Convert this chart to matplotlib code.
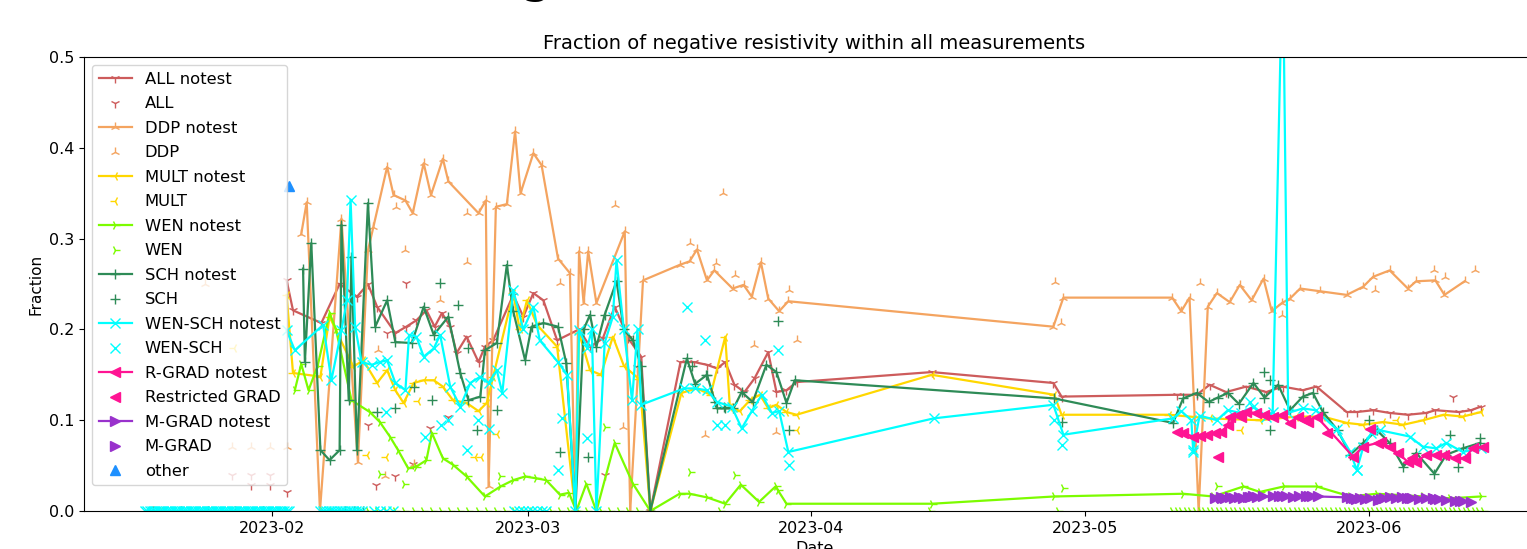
import numpy as np
import matplotlib
matplotlib.use("Agg")
import matplotlib.pyplot as plt
import matplotlib.dates as mdates

BASE = np.datetime64('2023-02-01T00:00')

# ---- data: day offsets from 2023-02-01 and fractions ----
all_nt_d = [1.6, 2.3, 5.4, 7.4, 9.3, 10.5, 11.5, 13.5, 14.7, 15.8, 16.9, 17.8, 18.6, 19.5, 20.2, 21.3, 22.6, 23.3, 24.2,
            26.4, 27.5, 28.6, 29.7, 31.2, 33.6, 34.8, 36.2, 37.5, 39.0, 40.4, 41.4, 44.7, 46.2, 47.6, 48.7, 49.6, 50.6,
            51.7, 52.8, 54.3, 55.2, 56.3, 57.4, 72.2, 85.5, 86.4, 99.0, 101.2, 102.6, 104.4, 106.6, 108.8, 110.6, 112.8,
            114.3, 117.6, 118.7, 120.5, 122.3, 124.3, 126.3, 127.3, 129.9, 131.2, 132.3]
all_nt_v = [.254, .221, .207, .25, .236, .25, .225, .196, .203, .21, .221, .203, .218, .203, .174, .192, .164, .181, .188,
            .238, .214, .24, .232, .188, .2, .181, .19, .225, .19, .17, 0.0, .164, .164, .161, .157, .164, .139,
            .131, .146, .175, .131, .133, .142, .153, .141, .126, .128, .128, .139, .131, .137, .131, .137, .133,
            .137, .109, .109, .111, .108, .106, .108, .111, .109, .111, .115]
all_d = [-4.4, -2.3, -0.2, -2.3, -0.2, 1.6, 10.5, 11.4, 12.6, 13.5, 14.7, 15.4, 17.3, 19.3, 36.4, 39.9, 129.2]
all_v = [.04, .04, .04, .029, .029, .021, .095, .029, .196, .038, .251, .052, .091, .104, .04, .159, .126]

ddp_nt_d = [3.2, 3.8, 5.25, 7.6, 9.4, 10.5, 11.1, 12.6, 13.3, 14.6, 15.4, 16.6, 17.4, 18.7, 19.3, 22.6, 23.4, 23.7, 24.5,
            25.7, 26.6, 27.2, 28.6, 29.5, 31.3, 32.6, 33.2, 33.6, 34.1, 34.6, 35.5, 38.6, 39.2, 40.6, 44.6, 45.7, 46.5,
            47.6, 48.4, 50.4, 51.6, 52.5, 53.5, 54.3, 55.5, 56.5, 85.5, 86.6, 98.5, 99.5, 100.4, 101.4, 102.4, 103.4,
            104.8, 105.9, 107.2, 108.5, 109.4, 110.5, 111.4, 112.5, 114.7, 117.6, 119.4, 120.5, 122.3, 124.3, 125.2,
            127.3, 128.3, 130.5]
ddp_nt_v = [.305, .34, 0.0, .322, .054, .287, .313, .379, .348, .342, .328, .383, .348, .388, .363, .328, .342, .027, .335,
            .338, .418, .35, .394, .381, .278, .262, 0.0, .286, .229, .286, .229, .308, 0.0, .254, .271, .275, .288,
            .254, .265, .245, .249, .236, .274, .234, .22, .231, .203, .235, .235, .22, .235, 0.0, .225, .24,
            .23, .249, .232, .256, .22, .229, .234, .245, .242, .238, .247, .258, .265, .245, .253,
            .254, .238, .253]
ddp_d = [-7.3, -4.4, -2.3, -0.2, 1.6, 11.6, 12.4, 13.6, 14.6, 15.5, 18.4, 21.3, 21.3, 31.5, 37.5, 38.4, 45.7, 47.4, 48.6,
         49.4, 50.7, 52.7, 55.2, 56.6, 57.4, 85.7, 86.3, 101.5, 110.5, 120.7, 127.1, 128.4, 131.6]
ddp_v = [.25, .071, .071, .071, .071, .177, .039, .335, .287, .052, .232, .274, .328, .251, .337, .093, .295, .084, .273,
         .35, .26, .183, .087, .243, .188, .252, .207, .251, .216, .243, .265, .258, .265]

mult_nt_d = [1.6, 2.3, 5.3, 6.3, 8.9, 10.0, 11.5, 12.6, 13.5, 14.4, 15.5, 16.6, 17.7, 18.7, 19.8, 21.3, 22.6, 23.5, 24.2,
             26.4, 27.1, 27.9, 29.0, 31.2, 33.2, 33.6, 34.8, 36.0, 37.3, 38.5, 40.2, 41.4, 44.8, 46.5, 48.0, 49.6, 50.1,
             51.2, 52.3, 53.4, 54.3, 55.2, 56.3, 57.4, 72.2, 85.6, 86.4, 98.2, 102.6, 108.1, 112.1, 115.0, 117.6, 119.4,
             121.6, 123.8, 126.0, 128.2, 130.3, 132.3]
mult_nt_v = [.238, .152, .148, .214, .159, .166, .141, .155, .133, .119, .141, .144, .144, .137, .122, .119, .11, .119, .148,
             .24, .2, .232, .205, .181, 0.0, .196, .155, .15, .192, .16, .145, 0.0, .13, .135, .128, .192, .115,
             .11, .122, .128, .113, .117, .109, .106, .15, .128, .106, .106, .102, .1, .104, .104, .097, .095,
             .098, .095, .1, .106, .104, .109]
mult_d = [-12.5, -12.2, -4.2, 10.4, 12.5, 16.0, 22.2, 22.9, 24.6, 57.4, 106.0, 123.1]
mult_v = [0.0, 0.0, .18, .062, .06, .121, .06, .06, .085, .089, .089, .1]

wen_nt_d = [2.5, 3.2, 4.0, 5.0, 6.3, 7.0, 8.7, 10.7, 11.8, 12.9, 13.8, 14.9, 15.8, 16.9, 17.5, 18.7, 19.8, 21.3, 23.3,
            25.0, 26.4, 27.7, 28.9, 30.0, 31.5, 32.5, 33.3, 34.4, 35.5, 37.5, 39.5, 41.4, 44.6, 45.7, 47.6, 49.6, 51.3,
            53.3, 55.1, 56.3, 72.2, 85.6, 99.7, 103.0, 106.3, 108.1, 110.7, 114.3, 118.0, 120.9, 126.0, 128.9, 132.3]
wen_nt_v = [.133, .162, .133, .16, .218, .2, .122, .109, .098, .082, .067, .047, .049, .056, .086, .058, .051, .038, .016,
            .027, .034, .038, .036, .034, .018, .02, 0.0, .03, 0.0, .075, .03, 0.0, .019, .019, .015, .008, .029,
            .01, .027, .008, .008, .016, .019, .016, .027, .021, .027, .027, .016, .019, .016, .014, .016]
wen_pt_d = [11.8, 14.4, 25.0, 36.4, 45.7, 50.7, 55.4, 86.6, 103.4]
wen_pt_v = [.041, .03, .038, .093, .043, .04, .023, .025, .027]
wen_zero_d = [5.5, 6.5, 7.5, 8.5, 9.5, 10.5, 11.5, 12.5, 13.5, 14.5, 15.5, 16.5, 17.5, 18.5, 19.5, 20.5, 21.5, 22.5,
              23.5, 24.5, 25.5, 26.5, 27.5, 28.5, 29.5, 30.5, 31.5, 32.5, 33.5, 34.5, 36.0, 37.0, 38.0, 39.0, 40.0,
              49.0, 72.0, 86.0, 98.5, 99.0, 99.5, 100.0, 100.5, 101.0, 101.5, 102.0, 102.5, 103.0, 103.5, 104.0,
              104.5, 105.0, 105.5, 106.0, 106.5, 107.0, 107.5, 108.0, 108.5, 109.0, 109.5, 110.0, 110.5, 111.0,
              111.5, 112.0, 112.5, 113.0, 113.5, 114.0, 114.5, 115.0, 115.5, 116.0, 116.5, 117.0, 117.5, 118.0,
              118.5, 119.0, 119.5, 120.0, 120.5, 121.0, 121.5, 122.0, 122.5, 123.0, 123.5, 124.0, 124.5, 125.0,
              125.5, 126.0, 126.5, 127.0, 127.5, 128.0, 128.5, 129.0, 129.5, 130.0, 130.5, 131.0, 131.5, 132.0, 132.5]

sch_nt_d = [3.4, 3.6, 4.3, 5.3, 6.3, 7.4, 7.6, 8.4, 8.7, 9.3, 10.5, 11.3, 12.6, 13.5, 15.3, 16.6, 17.7, 19.3, 20.6, 21.5,
            22.8, 23.3, 24.6, 25.7, 26.4, 27.7, 28.4, 29.7, 31.3, 32.2, 33.2, 34.1, 34.8, 35.5, 36.4, 37.7, 38.5, 39.5,
            40.4, 41.4, 45.4, 46.3, 47.6, 48.7, 49.6, 50.5, 51.4, 52.6, 54.1, 55.2, 56.3, 57.2, 85.6, 98.6, 99.7,
            101.2, 102.5, 103.5, 104.6, 105.8, 107.4, 108.6, 110.1, 111.4, 112.8, 113.9, 115.0, 116.6, 118.0, 119.4,
            120.9, 122.3, 123.8, 125.2, 127.2, 128.5, 130.3, 132.2]
sch_nt_v = [.267, .164, .295, .067, .056, .067, .315, .122, .28, .067, .339, .203, .232, .186, .185, .225, .194, .214, .152,
            .122, .126, .177, .185, .271, .22, .166, .203, .207, .203, .163, 0.0, .2, .216, .181, .216, .253, .2, .188,
            .16, 0.0, .168, .14, .15, .113, .113, .113, .131, .12, .161, .153, .119, .144, .124, .097, .124,
            .13, .12, .125, .13, .118, .141, .125, .139, .111, .126, .13, .109, .089, .062, .075,
            .089, .075, .049, .064, .041, .062, .069, .075]
sch_pt_d = [11.5, 13.5, 15.5, 17.5, 18.4, 20.4, 21.5, 22.4, 24.6, 31.5, 34.6, 46.0, 47.5, 48.5, 49.5, 55.4, 56.6, 86.4,
            108.5, 109.2, 109.2, 120.0, 128.9, 129.8, 132.2]
sch_pt_v = [.109, .113, .137, .122, .251, .227, .18, .089, .111, .065, .06, .16, .15, .12, .115, .209, .089, .098,
            .153, .144, .089, .1, .084, .049, .08]
sch_zero_d = [-13.0, -10.0, -7.0, -4.0, -1.0, 8.0, 9.0, 10.0]

ws_nt_d = [1.6, 2.5, 5.6, 6.5, 7.6, 8.2, 8.6, 9.1, 9.8, 10.9, 11.8, 12.6, 13.5, 14.6, 15.0, 15.8, 16.6, 17.7, 18.4, 19.5,
           20.6, 21.7, 22.8, 23.7, 24.6, 25.2, 26.4, 27.5, 28.6, 29.3, 31.3, 32.3, 33.2, 33.6, 34.5, 35.0, 35.5, 36.4,
           37.3, 37.7, 38.5, 39.4, 40.0, 40.4, 45.1, 46.3, 47.6, 48.7, 50.3, 51.4, 52.5, 53.6, 54.7, 55.5, 56.5, 72.4,
           85.5, 86.6, 98.6, 99.5, 100.6, 100.8, 101.5, 103.4, 104.6, 106.0, 107.4, 108.8, 109.5, 110.6, 111.2, 112.8,
           114.2, 116.5, 118.0, 118.7, 119.4, 120.3, 121.2, 124.5, 125.9, 127.4, 128.5, 130.3, 132.3]
ws_nt_v = [.199, .177, .205, .144, .199, .232, .343, .203, .164, .161, .164, .166, .141, .133, .194, .192, .17, .179, .194,
           .137, .115, .141, .148, .141, .155, .13, .243, .2, .225, .188, .164, .15, 0.0, .199, .18, .2, 0.0, .185,
           .214, .276, .2, .122, .2, .117, .135, .135, .133, .12, .115, .091, .11, .128, .108, .11, .065, .102,
           .117, .084, .102, .11, .1, .067, .105, .1, .111, .108, .115, .104, .109, .62, .108, .113,
           .111, .09, .065, .045, .07, .086, .089, .082, .071, .069, .075, .065, .069]
ws_pt_d = [12.5, 16.7, 18.5, 19.3, 21.3, 22.5, 23.7, 31.3, 31.7, 34.5, 45.4, 47.4, 48.7, 49.6, 55.4, 56.6, 85.6, 86.4,
           100.8, 107.0, 118.7]
ws_pt_v = [.109, .082, .095, .1, .067, .1, .09, .045, .102, .08, .225, .188, .095, .095, .177, .051, .1, .073,
           .065, .12, .045]
ws_zero_d = [-13.9, -13.65, -13.4, -13.15, -12.9, -12.65, -12.4, -12.15, -11.9, -11.65, -11.4, -11.15, -10.9, -10.65,
             -10.4, -10.15, -9.9, -9.65, -9.4, -9.15, -8.9, -8.65, -8.4, -8.15, -7.9, -7.65, -7.4, -7.15, -6.9,
             -6.65, -6.4, -6.15, -5.9, -5.65, -5.4, -5.15, -4.9, -4.65, -4.4, -4.15, -3.9, -3.65, -3.4, -3.15,
             -2.9, -2.65, -2.4, -2.15, -1.9, -1.65, -1.4, -1.15, -0.9, -0.65, -0.4, -0.15, 0.1, 0.35, 0.6, 0.85,
             1.1, 1.35, 1.6, 1.85, 5.3, 5.6, 5.9, 6.2, 6.5, 6.8, 7.1, 7.4, 7.7, 8.0, 8.3, 8.6, 8.9, 9.2, 9.5, 9.8,
             11.2, 11.8, 12.5, 13.2, 26.5, 27.0, 27.5, 28.0, 28.5, 29.0, 29.5, 30.0]

rg_nt_d = [99.0, 99.7, 100.8, 101.5, 102.3, 103.2, 103.9, 104.6, 104.8, 105.7, 106.6, 107.7, 108.6, 109.5, 110.5, 111.4,
           112.3, 113.4, 114.3, 118.3, 119.4, 121.4, 122.3, 123.2, 124.3, 125.2, 126.3, 127.4, 128.3, 129.4, 130.5,
           131.4, 132.5]
rg_nt_v = [.087, .086, .082, .083, .084, .086, .087, .095, .104, .106, .109, .108, .106, .104, .106, .097,
           .104, .098, .104, .06, .071, .076, .07, .064, .054, .054, .062, .062, .062, .058, .058,
           .069, .071]
rg_d = [103.5, 115.4, 120.2, 121.0, 113.0, 106.0, 124.8]
rg_v = [.06, .086, .09, .075, .1, .104, .058]

mg_nt_d = [103.2, 103.8, 104.3, 104.8, 105.3, 105.8, 106.3, 106.8, 107.3, 107.8, 108.4, 109.5, 110.2, 111.0, 111.7,
           112.4, 113.1, 113.8, 114.5, 117.6, 118.1, 118.6, 119.1, 119.6, 120.2, 121.0, 121.7, 122.3, 123.0, 123.6,
           124.2, 124.8, 125.5, 126.3, 127.0, 127.7, 128.5, 129.4, 130.3, 131.2]
mg_nt_v = [.014, .015, .014, .015, .014, .015, .014, .015, .016, .015, .016, .016, .017, .016, .015,
           .016, .017, .016, .016, .015, .014, .013, .014, .013, .014, .012, .014, .015, .014, .015,
           .014, .014, .013, .014, .014, .013, .012, .011, .011, .010]
mg_d = [104.0, 107.0, 110.5, 113.5, 118.4, 121.4, 124.5, 127.3, 130.0]
mg_v = [.014, .015, .016, .016, .014, .013, .014, .013, .011]

other_d = [1.9]
other_v = [.358]

# scatter series = read points plus markers sitting on zero
wen_d = wen_pt_d + wen_zero_d
wen_v = wen_pt_v + [0.0] * len(wen_zero_d)
sch_d = sch_pt_d + sch_zero_d
sch_v = sch_pt_v + [0.0] * len(sch_zero_d)
ws_d = ws_pt_d + ws_zero_d
ws_v = ws_pt_v + [0.0] * len(ws_zero_d)


def dates(days):
    return BASE + (np.array(days) * 1440).round().astype(int).astype('timedelta64[m]')


W, H = 1527, 549
fig = plt.figure(figsize=(W / 100, H / 100), dpi=100)
ax = fig.add_axes([84 / W, (H - 511) / H, (1545 - 84) / W, (511 - 57) / H])

ms = 7
series = [
    (all_nt_d, all_nt_v, '1', 'indianred', '-', 'ALL notest'),
    (all_d, all_v, '1', 'indianred', 'none', 'ALL'),
    (ddp_nt_d, ddp_nt_v, '2', 'sandybrown', '-', 'DDP notest'),
    (ddp_d, ddp_v, '2', 'sandybrown', 'none', 'DDP'),
    (mult_nt_d, mult_nt_v, '3', 'gold', '-', 'MULT notest'),
    (mult_d, mult_v, '3', 'gold', 'none', 'MULT'),
    (wen_nt_d, wen_nt_v, '4', 'lawngreen', '-', 'WEN notest'),
    (wen_d, wen_v, '4', 'lawngreen', 'none', 'WEN'),
    (sch_nt_d, sch_nt_v, '+', 'seagreen', '-', 'SCH notest'),
    (sch_d, sch_v, '+', 'seagreen', 'none', 'SCH'),
    (ws_nt_d, ws_nt_v, 'x', 'cyan', '-', 'WEN-SCH notest'),
    (ws_d, ws_v, 'x', 'cyan', 'none', 'WEN-SCH'),
    (rg_nt_d, rg_nt_v, '<', 'deeppink', '-', 'R-GRAD notest'),
    (rg_d, rg_v, '<', 'deeppink', 'none', 'Restricted GRAD'),
    (mg_nt_d, mg_nt_v, '>', 'darkorchid', '-', 'M-GRAD notest'),
    (mg_d, mg_v, '>', 'darkorchid', 'none', 'M-GRAD'),
    (other_d, other_v, '^', 'dodgerblue', 'none', 'other'),
]
for d, v, mk, col, ls, lab in series:
    ax.plot(dates(d), v, marker=mk, color=col, linestyle=ls, markersize=ms, linewidth=1.6, label=lab)

ax.set_xlim(dates([-20.57])[0], dates([139.3])[0])
ax.set_ylim(0, 0.5)
ax.xaxis.set_major_locator(mdates.MonthLocator())
ax.xaxis.set_major_formatter(mdates.DateFormatter('%Y-%m'))
ax.tick_params(labelsize=11.5)
ax.set_title('Fraction of negative resistivity within all measurements', fontsize=14)
ax.set_ylabel('Fraction', fontsize=11)
ax.set_xlabel('Date', fontsize=11.5)
ax.legend(loc='upper left', fontsize=11.8, labelspacing=0.58)

# descender of a larger heading that lies above the visible area
fig.text(536 / W, 1.016, 'g', fontsize=38, ha='center', va='baseline')

fig.savefig('out.png', dpi=100)
